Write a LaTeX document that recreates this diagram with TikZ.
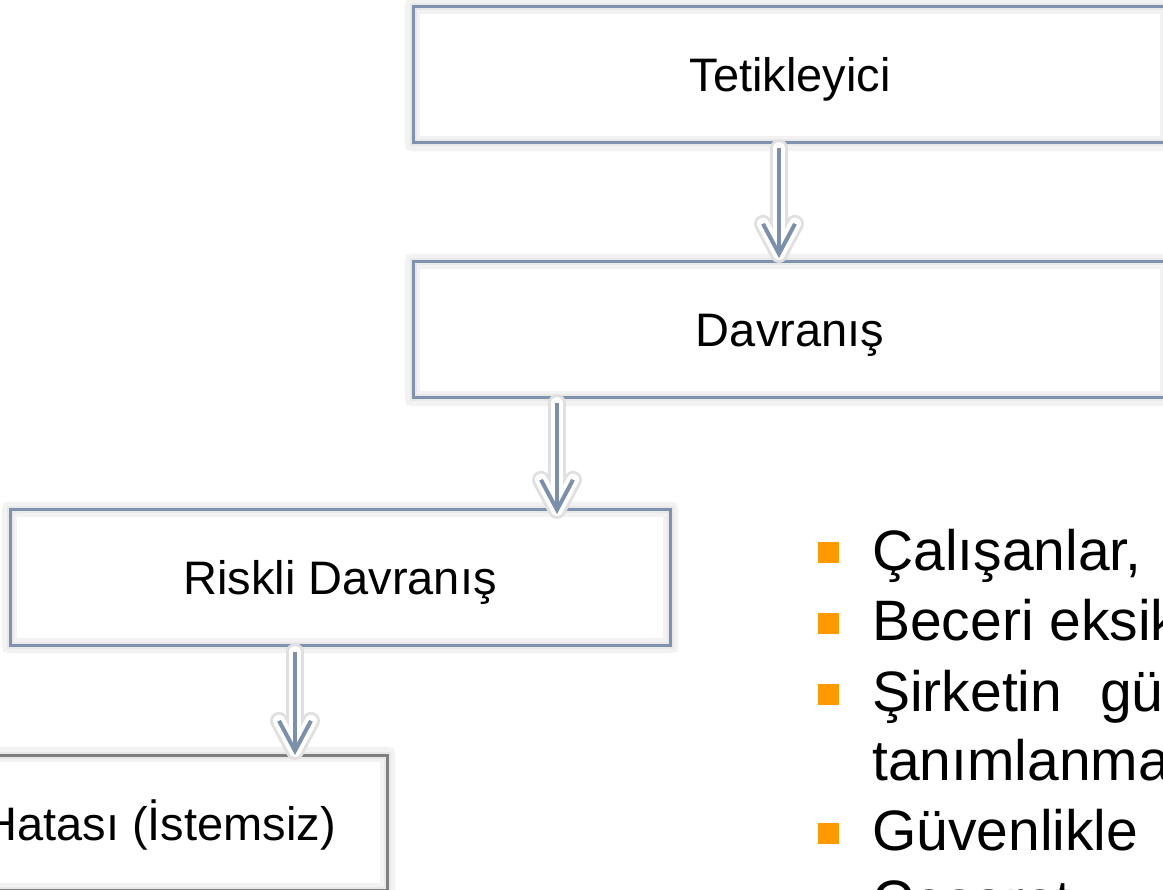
\documentclass[tikz,border=0pt]{standalone}
\usepackage{fontspec}
\setmainfont{Liberation Sans}
\usetikzlibrary{calc,shadows.blur}

\definecolor{boxblue}{RGB}{128,147,174}
\definecolor{boxgray}{RGB}{128,128,128}
\definecolor{arrowblue}{RGB}{124,144,172}
\definecolor{bulletorange}{RGB}{255,153,0}

% down arrow: white halo, blue-grey shaft and an open chevron head
\newcommand\flowarrow[2]{%
  \draw[arrowshade] (#1) -- (#2);
  \draw[arrowshade] ($(#2)+(-16,-30)$) -- (#2) -- ($(#2)+(16,-30)$);
  \draw[arrowhalo] (#1) -- (#2);
  \draw[arrowhalo] ($(#2)+(-16,-30)$) -- (#2) -- ($(#2)+(16,-30)$);
  \draw[arrowcore] (#1) -- (#2);
  \draw[arrowcore] ($(#2)+(-16,-30)$) -- (#2) -- ($(#2)+(16,-30)$);
}

\begin{document}
\begin{tikzpicture}[x=1pt,y=-1pt,
  stepbox/.style={
    fill=white, draw=none, inner sep=0pt,
    text height=34pt, text depth=0pt,
    font=\fontsize{47}{56}\selectfont,
    blur shadow={shadow xshift=0pt, shadow yshift=0pt,
                 shadow blur radius=9pt, shadow blur steps=10,
                 shadow opacity=60},
    postaction={draw=black!5, line width=14pt},
    postaction={draw=black!9, line width=7pt},
    postaction={draw=#1, line width=3pt}},
  stepbox/.default=boxblue,
  boxtext/.style={inner sep=0pt, anchor=base east,
    font=\fontsize{47}{56}\selectfont},
  arrowshade/.style={draw=black!12, line width=18pt,
    line cap=round, line join=round},
  arrowhalo/.style={draw=white, line width=12pt,
    line cap=round, line join=round},
  arrowcore/.style={draw=arrowblue, line width=4pt,
    line cap=butt, line join=miter},
  bullet/.style={fill=bulletorange, draw=none, minimum size=21pt,
    inner sep=0pt},
  item/.style={inner sep=0pt, anchor=base west,
    font=\fontsize{57}{70}\selectfont},
]
\useasboundingbox (0,0) rectangle (1163,890);
\clip (0,0) rectangle (1163,890);

% flow boxes
\node[stepbox, minimum width=754pt, minimum height=136pt] (trig)
  at (790,75) {Tetikleyici};
\node[stepbox, minimum width=754pt, minimum height=136pt] (beh)
  at (790,330) {Davranış};
\node[stepbox, minimum width=660pt, minimum height=135pt] (risk)
  at (340,577.5) {Riskli Davranış};
\node[stepbox=boxgray, minimum width=660pt, minimum height=135pt] (err)
  at (57,822.5) {};
\node[boxtext] (errtext) at (336,840) {Hatası (İstemsiz)};

% connectors
\coordinate (a1s) at ($(trig.south)+(-11,5)$);
\coordinate (a1e) at ($(beh.north)+(-11,-8)$);
\coordinate (a2s) at ($(beh.south)+(-233,5)$);
\coordinate (a2e) at ($(risk.north)+(217,0)$);
\coordinate (a3s) at ($(risk.south)+(-45,7)$);
\coordinate (a3e) at ($(err.north)+(238,-4)$);
\flowarrow{a1s}{a1e}
\flowarrow{a2s}{a2e}
\flowarrow{a3s}{a3e}

% bullet list
\node[bullet] (b1) at (828.5,553) {};
\node[item] (t1) at (872,570) {Çalışanlar,};
\node[bullet] (b2) at (828.5,623) {};
\node[item] (t2) at (872,640) {Beceri eksikliği};
\node[bullet] (b3) at (828.5,694) {};
\node[item] (t3) at (872,711) {Şirketin\hspace{38pt}güvenlik};
\node[item] (t3b) at (872,780) {tanımlanmamış};
\node[bullet] (b4) at (828.5,833) {};
\node[item] (t4) at (872,850) {Güvenlikle};
\node[bullet] (b5) at (828.5,903) {};
\node[item] (t5) at (872,920) {Cesaret};
\end{tikzpicture}
\end{document}
